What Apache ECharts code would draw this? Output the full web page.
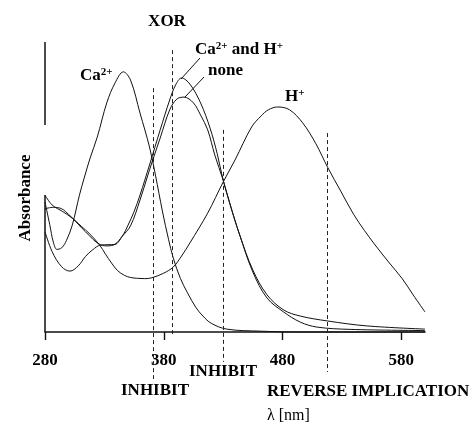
<!DOCTYPE html>
<html>
<head>
<meta charset="utf-8">
<script src="https://cdn.jsdelivr.net/npm/echarts@6/dist/echarts.min.js"></script>
<style>
  html, body { margin: 0; padding: 0; background: #fff; }
  #chart { width: 470px; height: 424px; }
</style>
</head>
<body>
<div id="chart"></div>
<script>
// Wavelength axis tick labels (nm)
const wavelengthTicks = [280, 380, 480, 580];

// Ca2+ spectrum
const caWl  = [280, 284, 287, 290, 294, 298, 303, 309, 313, 318, 324, 332, 339, 346, 352, 360, 368, 373, 379, 384, 388, 394, 400, 407, 413, 420, 433, 461, 495, 600];
const caAbs = [0.448, 0.37, 0.31, 0.285, 0.29, 0.315, 0.369, 0.472, 0.531, 0.60, 0.672, 0.790, 0.859, 0.897, 0.869, 0.755, 0.638, 0.541, 0.414, 0.32, 0.255, 0.185, 0.135, 0.085, 0.055, 0.03, 0.010, 0.003, 0.0, 0.0];

// H+ spectrum
const hWl  = [280, 287, 294, 300, 305, 311, 317, 326, 331, 336, 341, 347, 352, 358, 364, 370, 380, 388, 395, 402, 417, 430, 440, 454, 462, 468, 476, 486, 497, 508, 518, 529, 540, 549, 558, 570, 581, 590, 600];
const hAbs = [0.425, 0.43, 0.425, 0.405, 0.386, 0.363, 0.341, 0.300, 0.268, 0.238, 0.212, 0.195, 0.188, 0.185, 0.184, 0.187, 0.203, 0.224, 0.262, 0.307, 0.410, 0.517, 0.593, 0.707, 0.745, 0.766, 0.776, 0.766, 0.721, 0.650, 0.568, 0.486, 0.405, 0.350, 0.300, 0.238, 0.183, 0.128, 0.069];

// Ca2+ and H+ spectrum
const bothWl  = [280, 286, 295, 303, 314, 327, 333, 339, 345, 350, 355, 360, 368, 377, 385, 390, 395, 402, 411, 419, 425, 430, 436, 444, 455, 467, 481, 495, 509, 537, 600];
const bothAbs = [0.472, 0.438, 0.415, 0.392, 0.346, 0.300, 0.297, 0.303, 0.33, 0.369, 0.415, 0.472, 0.576, 0.697, 0.800, 0.852, 0.876, 0.855, 0.790, 0.703, 0.615, 0.524, 0.438, 0.334, 0.207, 0.117, 0.069, 0.034, 0.017, 0.009, 0.005];

// Spectrum with no added ions
const noneWl  = [280, 286, 294, 301, 308, 314, 320, 327, 333, 339, 345, 352, 360, 368, 377, 385, 391, 397, 405, 411, 417, 423, 430, 436, 444, 455, 467, 481, 495, 518, 551, 600];
const noneAbs = [0.346, 0.277, 0.225, 0.210, 0.228, 0.260, 0.283, 0.300, 0.301, 0.302, 0.33, 0.366, 0.455, 0.559, 0.669, 0.766, 0.803, 0.810, 0.790, 0.748, 0.697, 0.610, 0.524, 0.438, 0.334, 0.214, 0.128, 0.076, 0.055, 0.038, 0.021, 0.010];

// Logic-gate readout wavelengths and the extent of their dashed markers
const gateWl     = [371, 387, 430, 518];
const gateTop    = [0.841, 0.972, 0.697, 0.686];
const gateBottom = [-0.162, -0.010, -0.103, -0.138];

// Visible pieces of the absorbance axis line
const absAxisPieces = [[1.0, 0.714], [0.472, 0.0]];

const absMin = -0.2;
const absMax = 1.0;

const pairs = (xs, ys) => xs.map((x, i) => [x, ys[i]]);
const serif = '"Liberation Serif", "Times New Roman", serif';
const ink = '#111';

function curve(name, xs, ys, extra) {
  return Object.assign({
    type: 'line',
    name: name,
    data: pairs(xs, ys),
    showSymbol: false,
    smooth: 0.35,
    lineStyle: { color: ink, width: 1 },
    silent: true,
    animation: false,
    clip: false
  }, extra || {});
}

function label(text, x, y, align, extra) {
  return Object.assign({
    type: 'text',
    x: x,
    y: y,
    silent: true,
    style: {
      text: text,
      fill: '#000',
      font: 'bold 17px ' + serif,
      align: align, textAlign: align,
      verticalAlign: 'middle', textVerticalAlign: 'middle',
      rich: {
        b: { fontFamily: serif, fontWeight: 'bold', fontSize: 17, fill: '#000', color: '#000' },
        s: { fontFamily: serif, fontWeight: 'bold', fontSize: 11, fill: '#000', color: '#000', padding: [0, 0, 7, 0] }
      }
    }
  }, extra || {});
}

const gridTop = 42;
const gridBottom = 34;
const plotHeight = 424 - gridTop - gridBottom;
// Lift the wavelength axis from the bottom of the plot up to absorbance 0
const zeroLift = plotHeight * (0 - absMin) / (absMax - absMin);

const chart = echarts.init(document.getElementById('chart'), null, { renderer: 'canvas' });

chart.setOption({
  animation: false,
  backgroundColor: '#fff',
  grid: { left: 45, right: 45, top: gridTop, bottom: gridBottom, containLabel: false },
  xAxis: {
    type: 'value',
    min: 280,
    max: 600,
    interval: 100,
    offset: -zeroLift,
    axisLine: { show: true, onZero: false, lineStyle: { color: ink, width: 1.6 } },
    axisTick: { show: true, length: 8, customValues: wavelengthTicks, lineStyle: { color: ink, width: 1.4 } },
    axisLabel: {
      customValues: wavelengthTicks,
      margin: 20,
      color: '#000',
      fontFamily: serif,
      fontWeight: 'bold',
      fontSize: 17
    },
    splitLine: { show: false }
  },
  yAxis: {
    type: 'value',
    min: absMin,
    max: absMax,
    axisLine: { show: false },
    axisTick: { show: false },
    axisLabel: { show: false },
    splitLine: { show: false }
  },
  series: [
    curve('Ca2+', caWl, caAbs, {
      markLine: {
        symbol: ['none', 'none'],
        silent: true,
        animation: false,
        label: { show: false },
        lineStyle: { type: 'solid', color: ink, width: 1.5 },
        data: absAxisPieces.map(p => [{ coord: [280, p[0]] }, { coord: [280, p[1]] }])
      }
    }),
    curve('H+', hWl, hAbs, {
      markLine: {
        symbol: ['none', 'none'],
        silent: true,
        animation: false,
        label: { show: false },
        lineStyle: { type: [4, 3], color: '#222', width: 1 },
        data: gateWl.map((w, i) => [{ coord: [w, gateTop[i]] }, { coord: [w, gateBottom[i]] }])
      }
    }),
    curve('Ca2+ and H+', bothWl, bothAbs),
    curve('none', noneWl, noneAbs)
  ],
  graphic: [
    label('XOR', 167, 22, 'center'),
    label('{b|Ca}{s|2+}', 80, 76, 'left'),
    label('{b|Ca}{s|2+}{b| and H}{s|+}', 195, 50, 'left'),
    label('none', 208, 71, 'left'),
    label('{b|H}{s|+}', 285, 97, 'left'),
    label('INHIBIT', 155, 391, 'center'),
    label('INHIBIT', 223, 372, 'center'),
    label('REVERSE IMPLICATION', 267, 392, 'left'),
    label('λ [nm]', 267, 416, 'left', { style: {
      text: 'λ [nm]', fill: '#000', font: '16px ' + serif,
      align: 'left', textAlign: 'left', verticalAlign: 'middle', textVerticalAlign: 'middle'
    } }),
    label('Absorbance', 26, 198, 'center', { rotation: Math.PI / 2 }),
    { type: 'line', silent: true, shape: { x1: 200, y1: 58, x2: 181, y2: 79 }, style: { stroke: ink, lineWidth: 1 } },
    { type: 'line', silent: true, shape: { x1: 204, y1: 77, x2: 185, y2: 97 }, style: { stroke: ink, lineWidth: 1 } }
  ]
});
</script>
</body>
</html>
